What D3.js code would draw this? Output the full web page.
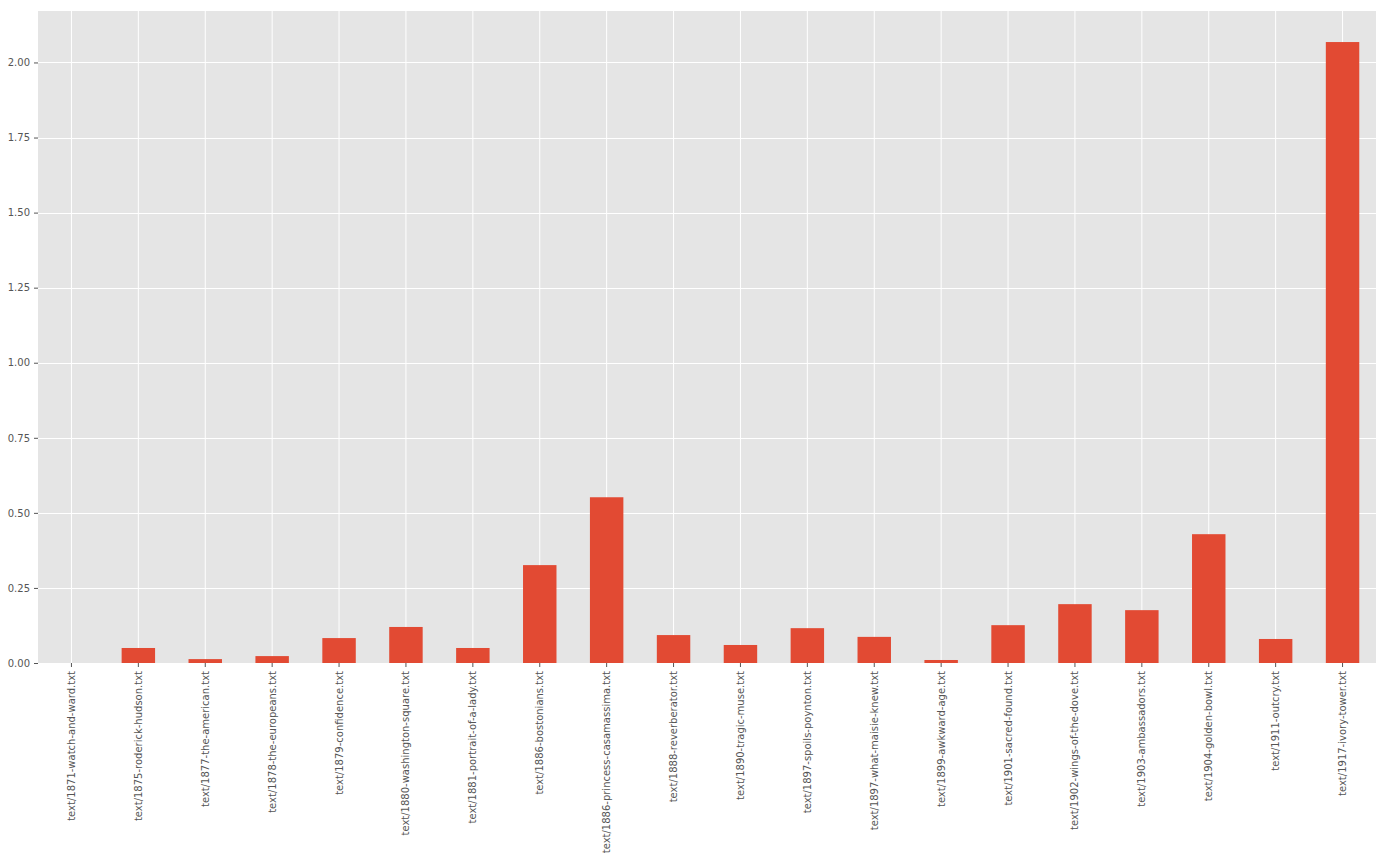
<!DOCTYPE html>
<html>
<head>
<meta charset="utf-8">
<script src="https://cdn.jsdelivr.net/npm/d3@7"></script>
<style>
  body { margin: 0; background: #fff; }
  svg text { font-family: "DejaVu Sans", sans-serif; }
</style>
</head>
<body>
<div id="chart"></div>
<script>
var width = 1386;
var height = 859;

// book files along the x axis
var books = [
    "text/1871-watch-and-ward.txt",
    "text/1875-roderick-hudson.txt",
    "text/1877-the-american.txt",
    "text/1878-the-europeans.txt",
    "text/1879-confidence.txt",
    "text/1880-washington-square.txt",
    "text/1881-portrait-of-a-lady.txt",
    "text/1886-bostonians.txt",
    "text/1886-princess-casamassima.txt",
    "text/1888-reverberator.txt",
    "text/1890-tragic-muse.txt",
    "text/1897-spoils-poynton.txt",
    "text/1897-what-maisie-knew.txt",
    "text/1899-awkward-age.txt",
    "text/1901-sacred-found.txt",
    "text/1902-wings-of-the-dove.txt",
    "text/1903-ambassadors.txt",
    "text/1904-golden-bowl.txt",
    "text/1911-outcry.txt",
    "text/1917-ivory-tower.txt"
];

var values = [0.0, 0.050, 0.013, 0.023, 0.083, 0.120, 0.050, 0.326, 0.552, 0.093,
              0.060, 0.116, 0.087, 0.010, 0.126, 0.196, 0.176, 0.429, 0.080, 2.068];

var yTicks = [0, 0.25, 0.5, 0.75, 1.0, 1.25, 1.5, 1.75, 2.0];

var margin = {top: 11, right: 10, bottom: 196, left: 38};
var plotW = width - margin.left - margin.right;
var plotH = height - margin.top - margin.bottom;

var svg = d3.select("#chart").append("svg")
    .attr("width", width).attr("height", height);

var g = svg.append("g")
    .attr("transform", "translate(" + margin.left + "," + margin.top + ")");

var x = d3.scaleBand().domain(books).range([0, plotW]).paddingInner(0.5).paddingOuter(0.25);
var y = d3.scaleLinear().domain([0, d3.max(values) * 1.05]).range([plotH, 0]);

// background
g.append("rect")
    .attr("width", plotW).attr("height", plotH)
    .attr("fill", "#e5e5e5");

// grid
g.selectAll(".hgrid").data(yTicks).enter().append("line")
    .attr("class", "hgrid")
    .attr("x1", 0).attr("x2", plotW)
    .attr("y1", function(d) { return Math.round(y(d)) + 0.5; })
    .attr("y2", function(d) { return Math.round(y(d)) + 0.5; })
    .attr("stroke", "#fff").attr("stroke-width", 1);

g.selectAll(".vgrid").data(books).enter().append("line")
    .attr("class", "vgrid")
    .attr("y1", 0).attr("y2", plotH)
    .attr("x1", function(d) { return x(d) + x.bandwidth() / 2; })
    .attr("x2", function(d) { return x(d) + x.bandwidth() / 2; })
    .attr("stroke", "#fff").attr("stroke-width", 1);

// bars
g.selectAll(".bar").data(values).enter().append("rect")
    .attr("class", "bar")
    .attr("x", function(d, i) { return x(books[i]); })
    .attr("width", x.bandwidth())
    .attr("y", function(d) { return y(d); })
    .attr("height", function(d) { return plotH - y(d); })
    .attr("fill", "#e24a33");

// axes
var yAxis = d3.axisLeft(y).tickValues(yTicks).tickFormat(d3.format(".2f"))
    .tickSize(4).tickPadding(4);
var xAxis = d3.axisBottom(x).tickSize(4).tickPadding(4);

var ya = g.append("g").call(yAxis);
var xa = g.append("g").attr("transform", "translate(0," + plotH + ")").call(xAxis);

[ya, xa].forEach(function(a) {
    a.select(".domain").remove();
    a.selectAll(".tick line").attr("stroke", "#555");
    a.selectAll(".tick text").attr("fill", "#555").style("font-size", "10px");
});

xa.selectAll(".tick text")
    .attr("transform", "rotate(-90)")
    .attr("x", -8).attr("y", 0)
    .attr("dy", "0.35em")
    .style("text-anchor", "end");
</script>
</body>
</html>
